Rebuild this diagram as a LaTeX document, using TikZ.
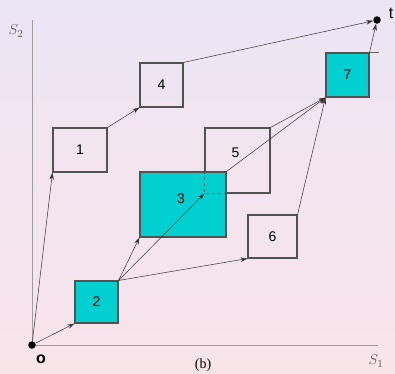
\documentclass[tikz,border=0pt]{standalone}
\usepackage{fontspec}
\setmainfont{Liberation Sans}
\newfontfamily\capfont{Liberation Serif}
\usetikzlibrary{arrows,arrows.meta,calc}
\definecolor{bgtop}{RGB}{236,229,244}
\definecolor{bgbot}{RGB}{249,228,234}
\definecolor{aqua}{RGB}{0,208,208}
\colorlet{rim}{black!68}
\tikzset{
  job/.style={draw=rim,line width=1.1pt,inner sep=0pt,font=\fontsize{14}{16}\selectfont},
  crit/.style={job,fill=aqua},
  flow/.style={->,draw=black!80,line width=0.5pt},
  dot/.style={circle,fill=black,inner sep=0pt,minimum size=7.5pt},
  axis/.style={draw=black!38,line width=0.9pt},
  axlabel/.style={text=black!65,font=\fontsize{15}{15}\selectfont}
}

\begin{document}
\begin{tikzpicture}[x=1pt,y=-1pt,>={Stealth[length=7pt,width=4.5pt]}]
\clip (0,0) rectangle (395,373);
\shade[top color=bgtop,bottom color=bgbot] (0,0) rectangle (395,373);
% axes
\coordinate (O) at (32,345);
\coordinate (ymax) at (32,20);
\coordinate (xmax) at (378,345);
\draw[axis] (ymax) -- (O) -- (xmax);
\node[axlabel] at (16,31) {$S_2$};
\node[axlabel] at (376,361) {$S_1$};
\node[dot] (o) at (O) {};
\node[font=\fontsize{16}{16}\selectfont\bfseries] at (41,359) {o};
\node[dot] (t) at (377,20) {};
\node[font=\fontsize{16}{16}\selectfont] at (391,13) {t};
% jobs
\node[job,minimum width=65pt,minimum height=65pt,
  label={[font=\fontsize{14}{16}\selectfont,yshift=8pt,xshift=-2pt]center:5}] (b5) at (237.5,160.5) {};
\node[crit,minimum width=86pt,minimum height=65pt,
  label={[font=\fontsize{14}{16}\selectfont,yshift=6pt,xshift=-2pt]center:3}] (b3) at (183,204.5) {};
\draw[job,dashed,fill=none] (b5.south west |- b3.north) -- (b5.south west) -- (b5.south west -| b3.east);
\node[job,minimum width=54pt,minimum height=44pt] (b1) at (80,150) {1};
\node[job,minimum width=43pt,minimum height=44pt] (b4) at (161.5,85) {4};
\node[crit,minimum width=43pt,minimum height=42pt] (b2) at (96.5,302) {2};
\node[job,minimum width=49pt,minimum height=43pt] (b6) at (272.5,236.5) {6};
\node[crit,minimum width=43pt,minimum height=44pt] (b7) at (347.5,75) {7};
\draw[draw=black!60,line width=0.5pt] (b7.north east) -- ++(9,0);
% precedence
\draw[flow] (o) -- (b1.south west);
\draw[flow] (o) -- (b2.south west);
\draw[flow] (b1.north east) -- (b4.south west);
\draw[flow] (b4.north east) -- (t);
\draw[flow] (b2.north east) -- (b3.south west);
\draw[flow] (b2.north east) -- (b5.south west);
\draw[flow] (b2.north east) -- (b6.south west);
\draw[flow] (b3.north east) -- (b7.south west);
\draw[flow] (b5.north east) -- (b7.south west);
\draw[flow] (b6.north east) -- (b7.south west);
\draw[flow] (b7.north east) -- (t);
\node[font=\capfont\fontsize{14}{14}\selectfont,anchor=south,inner sep=1pt] at (203,373) {(b)};
\end{tikzpicture}
\end{document}
